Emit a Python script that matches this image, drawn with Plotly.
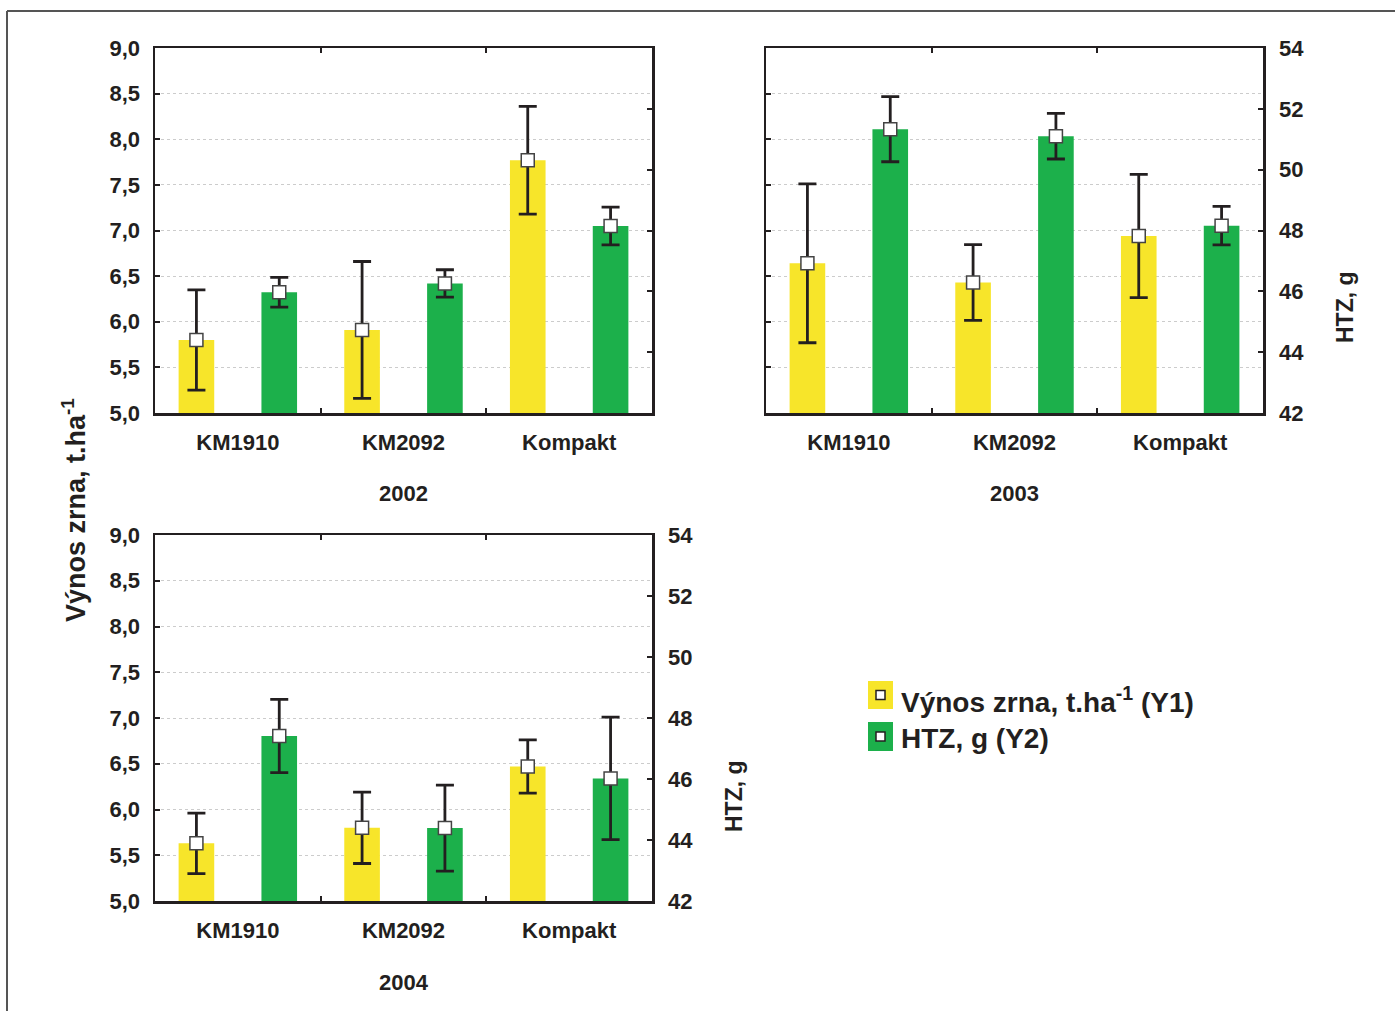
import plotly.graph_objects as go

# ---------------- data ----------------
categories = ["KM1910", "KM2092", "Kompakt"]
years = ["2002", "2003", "2004"]

yield_2002 = [5.80, 5.91, 7.77]
yield_err_2002 = [0.55, 0.75, 0.59]
htz_2002 = [45.97, 46.26, 48.15]
htz_err_2002 = [0.49, 0.45, 0.62]

yield_2003 = [6.64, 6.43, 6.94]
yield_err_2003 = [0.87, 0.415, 0.675]
htz_2003 = [51.33, 51.10, 48.16]
htz_err_2003 = [1.07, 0.75, 0.63]

yield_2004 = [5.63, 5.80, 6.47]
yield_err_2004 = [0.33, 0.39, 0.29]
htz_2004 = [47.41, 44.39, 46.02]
htz_err_2004 = [1.20, 1.41, 2.01]

y1_range = [5, 9]
y2_range = [42, 54]

# ---------------- styling ----------------
W, H = 1395, 1011
YELLOW = "#f7e52a"
GREEN = "#1cb04b"
DARK = "#231f20"
FONT = "Liberation Sans, Arial, sans-serif"


def px_x(x):
    return x / W


def px_y(y):
    return 1 - y / H


panels = [
    # (year, yield, yield_err, htz, htz_err, x-pixels, y-pixels, left labels, right labels)
    (years[0], yield_2002, yield_err_2002, htz_2002, htz_err_2002, (155, 652), (48, 413), True, False),
    (years[1], yield_2003, yield_err_2003, htz_2003, htz_err_2003, (766, 1263), (48, 413), False, True),
    (years[2], yield_2004, yield_err_2004, htz_2004, htz_err_2004, (155, 652), (535, 901), True, True),
]

fig = go.Figure()
layout = {}
annotations = []
shapes = []

idx = list(range(len(categories)))
OFF = 0.25
BW = 0.215

for p, (yr, yv, ye, hv, he, xpx, ypx, left_lbl, right_lbl) in enumerate(panels):
    xn = "x" if p == 0 else f"x{p + 1}"
    y1n = "y" if p == 0 else f"y{2 * p + 1}"
    y2n = f"y{2 * p + 2}"
    xkey = "xaxis" if p == 0 else f"xaxis{p + 1}"
    y1key = "yaxis" if p == 0 else f"yaxis{2 * p + 1}"
    y2key = f"yaxis{2 * p + 2}"

    xs_y = [i - OFF for i in idx]
    xs_g = [i + OFF for i in idx]

    fig.add_trace(go.Bar(x=xs_y, y=yv, width=BW, marker=dict(color=YELLOW, line=dict(width=0)),
                         xaxis=xn, yaxis=y1n, showlegend=False, hoverinfo="skip"))
    fig.add_trace(go.Scatter(x=xs_y, y=yv, mode="markers", xaxis=xn, yaxis=y1n, showlegend=False,
                             marker=dict(symbol="square", size=13, color="white",
                                         line=dict(color="#444444", width=1.5)),
                             error_y=dict(type="data", array=ye, visible=True, color=DARK,
                                          thickness=2.8, width=9)))
    fig.add_trace(go.Bar(x=xs_g, y=hv, width=BW, marker=dict(color=GREEN, line=dict(width=0)),
                         xaxis=xn, yaxis=y2n, showlegend=False, hoverinfo="skip"))
    fig.add_trace(go.Scatter(x=xs_g, y=hv, mode="markers", xaxis=xn, yaxis=y2n, showlegend=False,
                             marker=dict(symbol="square", size=13, color="white",
                                         line=dict(color="#444444", width=1.5)),
                             error_y=dict(type="data", array=he, visible=True, color=DARK,
                                          thickness=2.8, width=9)))

    layout[xkey] = dict(
        domain=[px_x(xpx[0]), px_x(xpx[1])], anchor=y1n, range=[-0.5, len(categories) - 0.5],
        tickvals=idx, ticktext=categories, ticks="", showgrid=False, zeroline=False,
        showline=True, linecolor=DARK, linewidth=2.5, mirror="ticks",
        minor=dict(tickvals=[i + 0.5 for i in idx[:-1]], ticks="inside", ticklen=5,
                   tickcolor=DARK, tickwidth=2, showgrid=False),
        tickfont=dict(family=FONT, size=22, color=DARK, weight="bold"),
        ticklabelstandoff=8, fixedrange=True,
    )
    layout[y1key] = dict(
        domain=[px_y(ypx[1]), px_y(ypx[0])], anchor=xn, range=y1_range, dtick=0.5, tick0=5,
        tickformat=".1f", ticks="inside", ticklen=5, tickcolor=DARK, tickwidth=2,
        showgrid=True, gridcolor="#cccccc", griddash="dot", gridwidth=1, zeroline=False,
        showline=True, linecolor=DARK, linewidth=2.5, showticklabels=left_lbl,
        tickfont=dict(family=FONT, size=22, color=DARK, weight="bold"),
        ticklabelstandoff=8, fixedrange=True,
    )
    layout[y2key] = dict(
        overlaying=y1n, side="right", anchor=xn, range=y2_range, dtick=2, tick0=42,
        ticks="inside", ticklen=5, tickcolor=DARK, tickwidth=2, showgrid=False, zeroline=False,
        showline=True, linecolor=DARK, linewidth=2.5, showticklabels=right_lbl,
        tickfont=dict(family=FONT, size=22, color=DARK, weight="bold"),
        ticklabelstandoff=9, fixedrange=True,
    )

    # year title under panel
    annotations.append(dict(text=yr, xref="paper", yref="paper",
                            x=px_x((xpx[0] + xpx[1]) / 2), y=px_y(ypx[1] + 81),
                            xanchor="center", yanchor="middle", showarrow=False,
                            font=dict(family=FONT, size=22, color=DARK, weight="bold")))

# axis titles
annotations.append(dict(text="Výnos zrna, t.ha<sup>-1</sup>", xref="paper", yref="paper",
                        x=px_x(74), y=px_y(510), textangle=-90, showarrow=False,
                        xanchor="center", yanchor="middle",
                        font=dict(family=FONT, size=27, color=DARK, weight="bold")))
for (cx, cy) in [(1345, 307), (734, 796)]:
    annotations.append(dict(text="HTZ, g", xref="paper", yref="paper",
                            x=px_x(cx), y=px_y(cy), textangle=-90, showarrow=False,
                            xanchor="center", yanchor="middle",
                            font=dict(family=FONT, size=23, color=DARK, weight="bold")))

# custom legend
legend_items = [("Výnos zrna, t.ha<sup>-1</sup> (Y1)", YELLOW, 681, 709, 700),
                ("HTZ, g (Y2)", GREEN, 722, 751, 738)]
for text, col, y0, y1, yc in legend_items:
    shapes.append(dict(type="rect", xref="paper", yref="paper",
                       x0=px_x(868), x1=px_x(893), y0=px_y(y1), y1=px_y(y0),
                       fillcolor=col, line=dict(width=0)))
    mid = (y0 + y1) / 2
    shapes.append(dict(type="rect", xref="paper", yref="paper",
                       x0=px_x(876), x1=px_x(885), y0=px_y(mid + 4.5), y1=px_y(mid - 4.5),
                       fillcolor="white", line=dict(color=DARK, width=1.5)))
    annotations.append(dict(text=text, xref="paper", yref="paper", x=px_x(899), y=px_y(yc),
                            xanchor="left", yanchor="middle", showarrow=False,
                            font=dict(family=FONT, size=28, color=DARK, weight="bold")))

# outer frame (top and left edges visible)
shapes.append(dict(type="line", xref="paper", yref="paper", x0=px_x(7), x1=1,
                   y0=px_y(11), y1=px_y(11), line=dict(color="#555555", width=2)))
shapes.append(dict(type="line", xref="paper", yref="paper", x0=px_x(7), x1=px_x(7),
                   y0=0, y1=px_y(11), line=dict(color="#555555", width=2)))

fig.update_layout(
    width=W, height=H, template="none", separators=",.",
    paper_bgcolor="white", plot_bgcolor="rgba(0,0,0,0)",
    margin=dict(l=0, r=0, t=0, b=0), showlegend=False,
    barmode="overlay", annotations=annotations, shapes=shapes,
    **layout,
)

fig.write_html(
    "out.html",
    config={"displayModeBar": False, "staticPlot": True},
    post_script="document.body.style.margin='0';document.body.style.padding='0';"
                "document.body.style.overflow='hidden';",
)
